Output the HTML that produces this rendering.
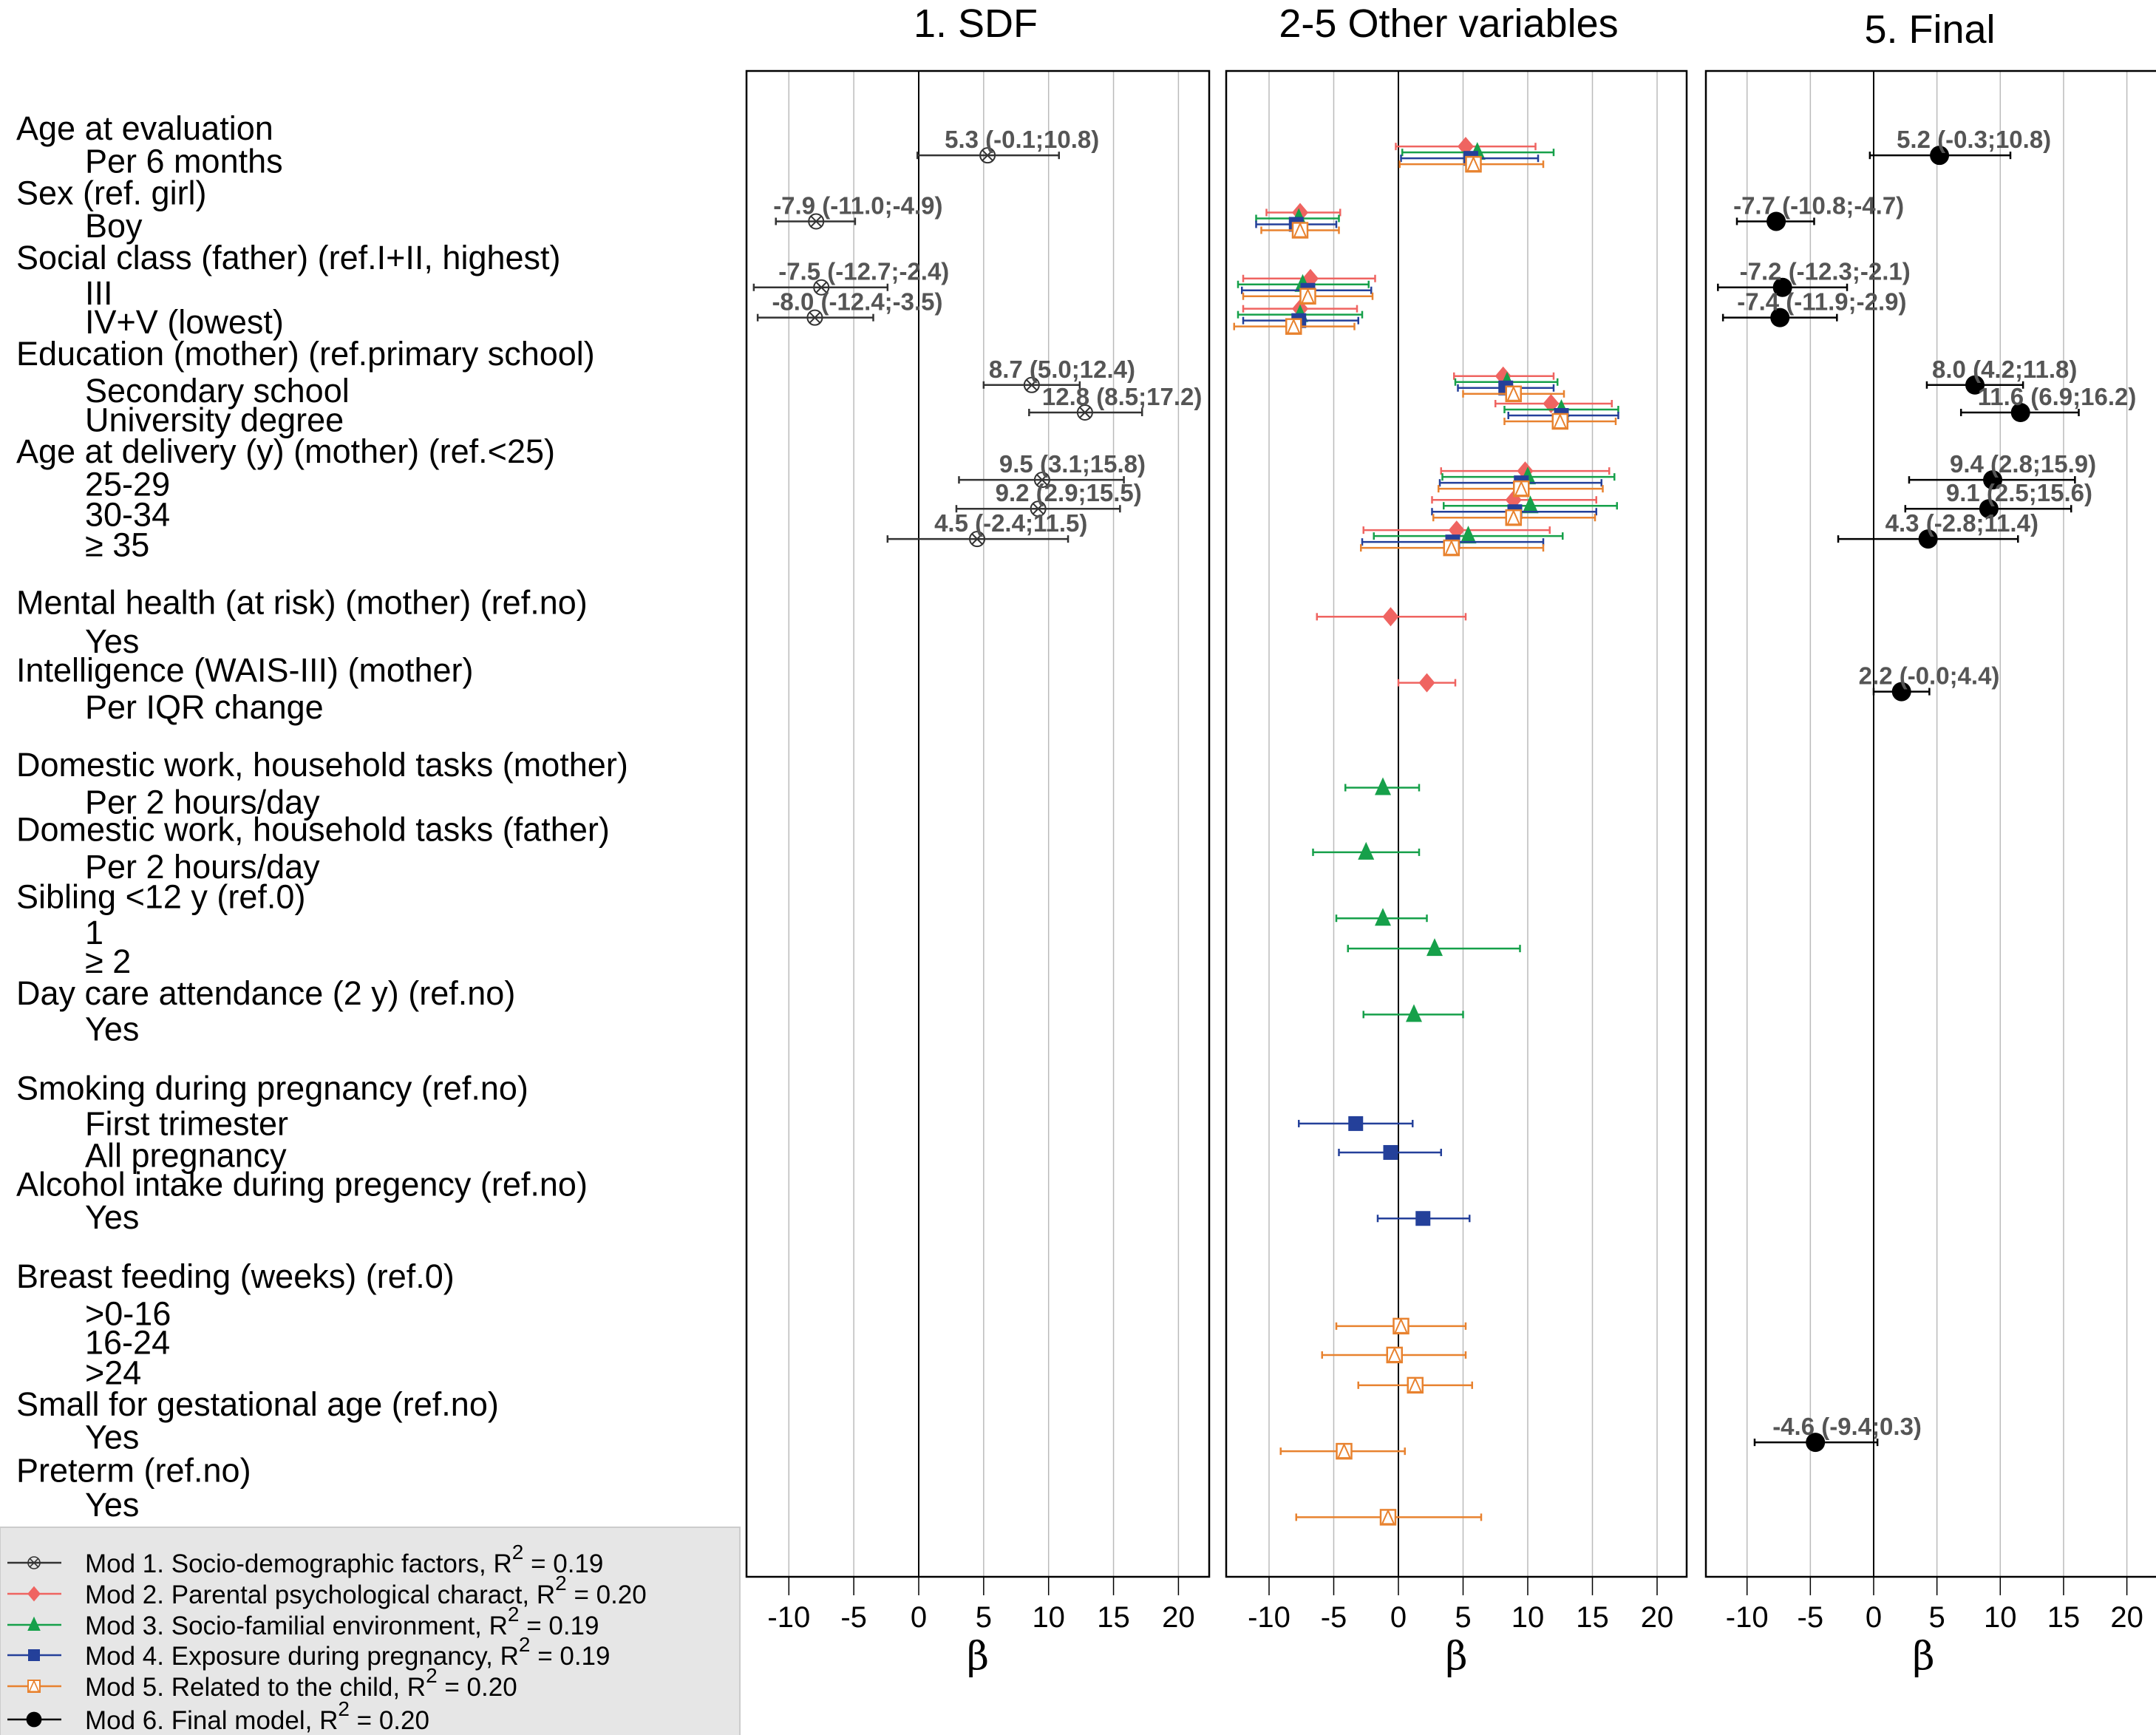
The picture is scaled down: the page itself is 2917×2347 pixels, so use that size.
<!DOCTYPE html>
<html><head><meta charset="utf-8"><style>
html,body{margin:0;padding:0;background:#fff}
svg{display:block;font-family:"Liberation Sans",Arial,sans-serif}
</style></head><body>
<svg id="chart" width="2917" height="2347" viewBox="0 0 2917 2347" xmlns="http://www.w3.org/2000/svg"></svg>
<script>
// ---------- data ----------
const categories = ["age6m","boy","cls3","cls45","secondary","university","age2529","age3034","age35","mentalYes","iqr","domMother","domFather","sib1","sib2","daycare","smoke1","smokeAll","alcohol","bf016","bf1624","bf24","sga","preterm"];
// Model 1 (SDF): [est, lo, hi]
const mod1 = {age6m:[5.3,-0.1,10.8],boy:[-7.9,-11.0,-4.9],cls3:[-7.5,-12.7,-2.4],cls45:[-8.0,-12.4,-3.5],secondary:[8.7,5.0,12.4],university:[12.8,8.5,17.2],age2529:[9.5,3.1,15.8],age3034:[9.2,2.9,15.5],age35:[4.5,-2.4,11.5]};
const mod2 = {age6m:[5.2,-0.2,10.6],boy:[-7.6,-10.2,-4.5],cls3:[-6.8,-12.0,-1.8],cls45:[-7.6,-12.0,-3.2],secondary:[8.1,4.3,12.0],university:[11.8,7.5,16.5],age2529:[9.8,3.3,16.3],age3034:[8.9,2.6,15.3],age35:[4.5,-2.7,11.7],mentalYes:[-0.6,-6.3,5.2],iqr:[2.2,0.0,4.4]};
const mod3 = {age6m:[6.1,0.3,12.0],boy:[-7.7,-11.0,-4.6],cls3:[-7.4,-12.4,-2.3],cls45:[-7.6,-12.4,-2.8],secondary:[8.4,4.4,12.3],university:[12.6,8.2,17.0],age2529:[10.0,3.4,16.7],age3034:[10.2,3.5,16.9],age35:[5.4,-1.9,12.7],domMother:[-1.2,-4.1,1.6],domFather:[-2.5,-6.6,1.6],sib1:[-1.2,-4.8,2.2],sib2:[2.8,-3.9,9.4],daycare:[1.2,-2.7,5.0]};
const mod4 = {age6m:[5.6,0.2,10.8],boy:[-7.9,-11.0,-4.8],cls3:[-7.0,-12.1,-2.1],cls45:[-7.7,-12.0,-3.1],secondary:[8.3,4.6,12.0],university:[12.6,8.5,17.0],age2529:[9.5,3.2,15.7],age3034:[9.0,2.6,15.3],age35:[4.2,-2.8,11.2],smoke1:[-3.3,-7.7,1.1],smokeAll:[-0.6,-4.6,3.3],alcohol:[1.9,-1.6,5.5]};
const mod5 = {age6m:[5.8,0.1,11.2],boy:[-7.6,-10.6,-4.6],cls3:[-7.0,-12.0,-2.0],cls45:[-8.1,-12.7,-3.4],secondary:[8.9,5.0,12.8],university:[12.5,8.2,16.8],age2529:[9.5,3.1,15.8],age3034:[8.9,2.7,15.2],age35:[4.1,-2.9,11.2],bf016:[0.2,-4.8,5.2],bf1624:[-0.3,-5.9,5.2],bf24:[1.3,-3.1,5.7],sga:[-4.2,-9.1,0.5],preterm:[-0.8,-7.9,6.4]};
const mod6 = {age6m:[5.2,-0.3,10.8],boy:[-7.7,-10.8,-4.7],cls3:[-7.2,-12.3,-2.1],cls45:[-7.4,-11.9,-2.9],secondary:[8.0,4.2,11.8],university:[11.6,6.9,16.2],age2529:[9.4,2.8,15.9],age3034:[9.1,2.5,15.6],age35:[4.3,-2.8,11.4],iqr:[2.2,-0.0,4.4],sga:[-4.6,-9.4,0.3]};
const tickValues = [-10,-5,0,5,10,15,20];
const tickLabels = ["-10","-5","0","5","10","15","20"];

// ---------- layout ----------
const rowSlot = {age6m:113,boy:161,cls3:209,cls45:231,secondary:280,university:300,age2529:349,age3034:370,age35:392,mentalYes:455,iqr:503,domMother:575,domFather:622,sib1:670,sib2:692,daycare:740,smoke1:815,smokeAll:836,alcohol:884,bf016:958,bf1624:979,bf24:1001,sga:1049,preterm:1097};
const yScale = c => rowSlot[c]*1.86;
const panels = [
  {x0:1010,x1:1636,zero:1243,unit:17.57,title:"1. SDF",tx:1320,ty:42},
  {x0:1659,x1:2282,zero:1892,unit:17.5,title:"2-5 Other variables",tx:1960,ty:42},
  {x0:2308,x1:2935,zero:2535,unit:17.13,title:"5. Final",tx:2611,ty:50}
];
const TOP=96,BOT=2133;
const NS="http://www.w3.org/2000/svg";
const svg=document.getElementById('chart');
function mk(tag,attrs,parent){const e=document.createElementNS(NS,tag);for(const k in attrs)e.setAttribute(k,attrs[k]);(parent||svg).appendChild(e);return e;}

// left labels
const labels=[
["Age at evaluation",93,0],["Per 6 months",117,1],["Sex (ref. girl)",140,0],["Boy",164,1],
["Social class (father) (ref.I+II, highest)",187,0],["III",213,1],["IV+V (lowest)",234,1],
["Education (mother) (ref.primary school)",257,0],["Secondary school",284,1],["University degree",305,1],
["Age at delivery (y) (mother) (ref.<25)",328,0],["25-29",352,1],["30-34",374,1],["≥ 35",396,1],
["Mental health (at risk) (mother) (ref.no)",438,0],["Yes",466,1],["Intelligence (WAIS-III) (mother)",487,0],["Per IQR change",514,1],
["Domestic work, household tasks (mother)",556,0],["Per 2 hours/day",583,1],["Domestic work, household tasks (father)",603,0],["Per 2 hours/day",630,1],
["Sibling <12 y (ref.0)",652,0],["1",678,1],["≥ 2",699,1],["Day care attendance (2 y) (ref.no)",722,0],["Yes",748,1],
["Smoking during pregnancy (ref.no)",791,0],["First trimester",817,1],["All pregnancy",840,1],["Alcohol intake during pregency (ref.no)",861,0],["Yes",885,1],
["Breast feeding (weeks) (ref.0)",928,0],[">0-16",955,1],["16-24",976,1],[">24",998,1],["Small for gestational age (ref.no)",1021,0],["Yes",1045,1],
["Preterm (ref.no)",1069,0],["Yes",1094,1]];
labels.forEach(l=>{
  const t=mk('text',{x:l[2]?115:22,y:l[1]*1.86+16,'font-size':45,fill:'#000'});
  t.textContent=l[0];
  
  
});

// panels
panels.forEach((p,i)=>{
  const g=mk('g',{});
  
  
  const t=mk('text',{x:p.tx,y:p.ty+8,'font-size':54,'text-anchor':'middle'},g);
  t.textContent=p.title;
  
  
  tickValues.forEach((v,j)=>{
    const x=p.zero+v*p.unit;
    mk('line',{x1:x,x2:x,y1:TOP,y2:BOT,stroke:v===0?'#000':'#bbb','stroke-width':v===0?2:1.5},g);
    mk('line',{x1:x,x2:x,y1:BOT,y2:BOT+25,stroke:'#000','stroke-width':1.5},g);
    const tl=mk('text',{x:x,y:BOT+68,'font-size':40,'text-anchor':'middle'},g);
    tl.textContent=tickLabels[j];
    
    
  });
  mk('rect',{x:p.x0,y:TOP,width:p.x1-p.x0,height:BOT-TOP,fill:'none',stroke:'#000','stroke-width':2.5},g);
  const b=mk('text',{x:(p.x0+Math.min(p.x1,2917))/2-(i==2?10:0),y:2258,'font-size':52,'text-anchor':'middle','font-family':'"DejaVu Serif",serif'},g);
  b.textContent='β';
  
  
});

function marker(type,x,y,col,parent){
  const s=11;
  if(type==='x'){
    mk('circle',{cx:x,cy:y,r:10,fill:'none',stroke:col,'stroke-width':2},parent);
    mk('path',{d:`M${x-7} ${y-7}L${x+7} ${y+7}M${x+7} ${y-7}L${x-7} ${y+7}`,stroke:col,'stroke-width':2},parent);
  }else if(type==='diamond'){
    mk('path',{d:`M${x} ${y-s-2}L${x+s} ${y}L${x} ${y+s+2}L${x-s} ${y}Z`,fill:col},parent);
  }else if(type==='tri'){
    mk('path',{d:`M${x} ${y-s-3}L${x+s} ${y+s-1}L${x-s} ${y+s-1}Z`,fill:col},parent);
  }else if(type==='square'){
    mk('rect',{x:x-10,y:y-10,width:20,height:20,fill:col},parent);
  }else if(type==='osq'){
    mk('rect',{x:x-10,y:y-10,width:20,height:20,fill:'#fff',stroke:col,'stroke-width':2.5},parent);
    mk('path',{d:`M${x} ${y-9}L${x+8} ${y+9}L${x-8} ${y+9}Z`,fill:'none',stroke:col,'stroke-width':2},parent);
  }else if(type==='dot'){
    mk('circle',{cx:x,cy:y,r:13,fill:col},parent);
  }
}
function series(data,p,dy,col,type,name,lab){
  const g=mk('g',{});
  
  
  categories.forEach(c=>{
    const d=data[c]; if(!d) return;
    const y=yScale(c)+dy;
    const xs=v=>p.zero+v*p.unit;
    mk('line',{x1:xs(d[1]),x2:xs(d[2]),y1:y,y2:y,stroke:col,'stroke-width':2.5},g);
    mk('line',{x1:xs(d[1]),x2:xs(d[1]),y1:y-5,y2:y+5,stroke:col,'stroke-width':2.5},g);
    mk('line',{x1:xs(d[2]),x2:xs(d[2]),y1:y-5,y2:y+5,stroke:col,'stroke-width':2.5},g);
    marker(type,xs(d[0]),y,col,g);
    if(lab){
      const f=v=>(v===0&&1/v<0?'-0.0':v.toFixed(1));
      const t=mk('text',{x:xs(d[0])-58,y:y-10,'font-size':33,'font-weight':'bold',fill:'#555'},g);
      t.textContent=`${f(d[0])} (${f(d[1])};${f(d[2])})`;
      
      
    }
  });
}
series(mod1,panels[0],0,'#333','x','series-mod1',true);
series(mod2,panels[1],-12,'#ef6461','diamond','series-mod2',false);
series(mod3,panels[1],-4,'#16a04a','tri','series-mod3',false);
series(mod4,panels[1],4,'#24409a','square','series-mod4',false);
series(mod5,panels[1],12,'#e8822f','osq','series-mod5',false);
series(mod6,panels[2],0,'#000','dot','series-mod6',true);

// legend
const lg=mk('g',{});


mk('rect',{x:0,y:2066,width:1001,height:290,fill:'#e6e6e6',stroke:'#ccc','stroke-width':2},lg);
const legendItems=[["Mod 1. Socio-demographic factors, R","0.19",'#333','x'],["Mod 2. Parental psychological charact, R","0.20",'#ef6461','diamond'],["Mod 3. Socio-familial environment, R","0.19",'#16a04a','tri'],["Mod 4. Exposure during pregnancy, R","0.19",'#24409a','square'],["Mod 5. Related to the child, R","0.20",'#e8822f','osq'],["Mod 6. Final model, R","0.20",'#000','dot']];
const legY=[2114,2156,2198,2239,2281,2326];
legendItems.forEach((it,i)=>{
  const g=mk('g',{},lg);
  
  
  const y=legY[i];
  mk('line',{x1:10,x2:83,y1:y,y2:y,stroke:it[2],'stroke-width':2.5},g);
  const sg=mk('g',{transform:`translate(46 ${y}) scale(0.8) translate(-46 ${-y})`},g);
  marker(it[3],46,y,it[2],sg);
  const t=mk('text',{x:115,y:y+13,'font-size':35},g);
  t.textContent=it[0];
  const sup=mk('tspan',{dy:-18,'font-size':28},t); sup.textContent='2';
  const rest=mk('tspan',{dy:18,'font-size':35},t); rest.textContent=' = '+it[1];
});
</script>
</body></html>
